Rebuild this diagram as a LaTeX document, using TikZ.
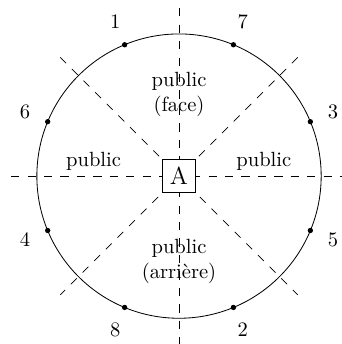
\documentclass[tikz,border=0pt]{standalone}
\begin{document}
\begin{tikzpicture}[dash line/.style={dash pattern=on 4pt off 4pt},
    seat/.style={circle,fill,inner sep=0pt,minimum size=2.6pt},
    stage/.style={draw,fill=white,minimum size=0.56cm,inner sep=0pt,font=\large}]
\useasboundingbox (-3.06,-2.87) rectangle (2.77,3.01);
\coordinate (O) at (0,0);
\foreach \a in {180,90,135,45} {
    \coordinate (s\a) at (\a:2.87);
    \coordinate (e\a) at (\a+180:2.87);
    \draw[dash line] (s\a) -- (e\a);
}
\draw (O) circle (2.43);
\foreach \a/\n in {22.5/3,67.5/7,112.5/1,157.5/6,202.5/4,247.5/8,292.5/2,337.5/5} {
    \node[seat] (p\n) at (\a:2.43) {};
    \node (n\n) at (\a:2.85) {\n};
}
\node[stage] (A) at (O) {A};
\node[align=center] (front) at (0,1.40) {public\\(face)};
\node[align=center] (back) at (0,-1.46) {public\\(arri\`ere)};
\node (left) at (-1.46,0.25) {public};
\node (right) at (1.45,0.25) {public};
\end{tikzpicture}
\end{document}
